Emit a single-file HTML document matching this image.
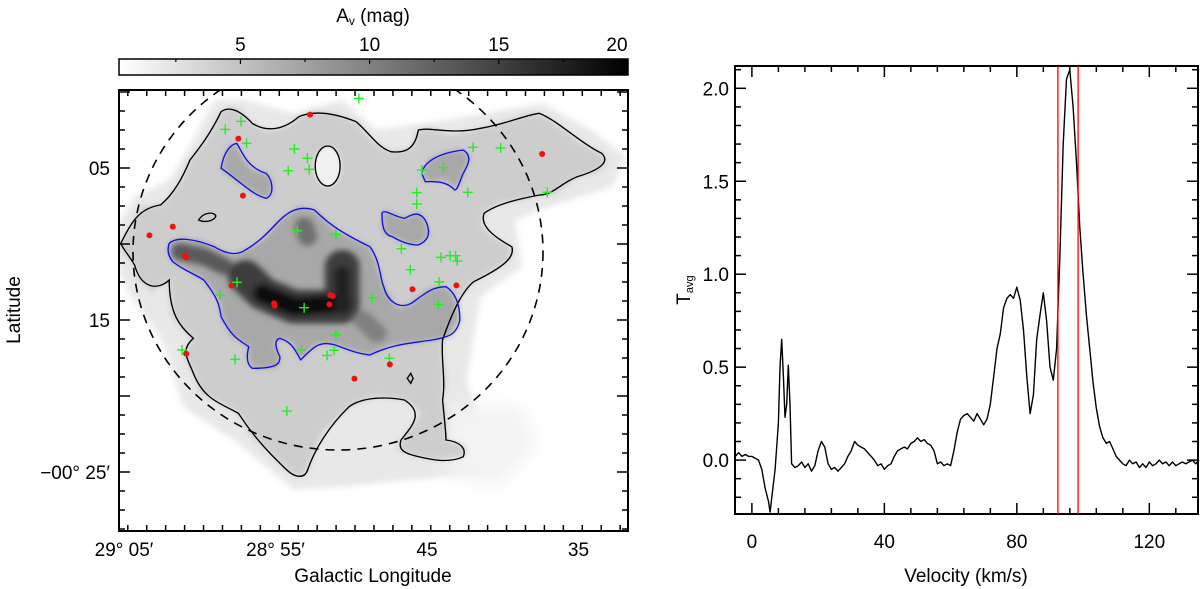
<!DOCTYPE html>
<html><head><meta charset="utf-8"><style>
html,body{margin:0;padding:0;background:#fff;}
svg{display:block;font-family:"Liberation Sans",sans-serif;}
</style></head><body>
<svg id="fig" width="1200" height="589" viewBox="0 0 1200 589" xmlns="http://www.w3.org/2000/svg">
<defs>
<linearGradient id="cbg" x1="0" x2="1" y1="0" y2="0"><stop offset="0" stop-color="#fff"/><stop offset="1" stop-color="#000"/></linearGradient>
<filter id="b1" x="-20%" y="-20%" width="140%" height="140%"><feGaussianBlur stdDeviation="9"/></filter>
<filter id="b3" x="-30%" y="-30%" width="160%" height="160%"><feGaussianBlur stdDeviation="25"/></filter>
<filter id="b2" x="-20%" y="-20%" width="140%" height="140%"><feGaussianBlur stdDeviation="5"/></filter>
<clipPath id="mapclip"><rect x="119" y="90" width="509" height="441"/></clipPath>
</defs>
<g>
<text x="373" y="22" font-size="19" text-anchor="middle">A<tspan font-size="12" dy="3">v</tspan><tspan dy="-3"> (mag)</tspan></text>
<rect x="119" y="59" width="509" height="16" fill="url(#cbg)" stroke="#000" stroke-width="1.5"/>
<g id="cbticks"></g>
</g>
<g clip-path="url(#mapclip)">
<g transform="translate(100,80) scale(0.346,0.33333)">
<path filter="url(#b1)" fill="#e8e8e8" d="M20,490 L100,350 L200,300 L260,200 L330,60 L420,60 L560,100 L700,60 L800,150 L1000,120 L1280,70 L1420,150 L1520,230 L1480,320 L1300,380 L1200,420 L1220,560 L1100,650 L1060,900 L1120,1120 L1100,1180 L900,1200 L700,1220 L560,1230 L400,1090 L240,980 L180,780 L90,650 Z"/>
<path filter="url(#b3)" fill="#f3f3f3" d="M1000,980 L1220,980 L1260,1100 L1150,1220 L1000,1180 Z"/>
<path filter="url(#b1)" fill="#cdcdcd" d="M60,490 L120,380 L175,375 L215,330 L240,290 L260,240 L300,190 L325,140 L350,95 L380,80 L410,95 L440,130 L490,155 L540,140 L575,110 L620,95 L680,100 L740,125 L790,185 L840,215 L900,205 L920,150 L960,145 L1010,165 L1100,145 L1230,105 L1270,100 L1330,140 L1390,190 L1450,220 L1465,250 L1440,275 L1380,290 L1310,345 L1270,345 L1220,360 L1150,370 L1110,400 L1105,440 L1140,470 L1190,500 L1185,540 L1140,570 L1080,605 L1040,650 L1010,720 L990,780 L990,840 L1000,900 L990,960 L1000,1010 L1000,1080 L1040,1090 L1060,1105 L1050,1130 L970,1140 L920,1130 L860,1110 L870,1080 L900,1040 L930,1000 L880,960 L800,950 L720,980 L650,1050 L620,1110 L600,1170 L580,1195 L540,1170 L500,1130 L430,1060 L400,1000 L350,970 L290,940 L270,880 L240,820 L270,775 L240,750 L210,710 L200,640 L200,600 L150,635 L110,600 L100,555 L60,510 Z"/>
<ellipse cx="658" cy="260" rx="40" ry="60" fill="#f0f0f0" filter="url(#b2)"/>
<g filter="url(#b1)" fill="#a8a8a8">
<path d="M350,265 L370,200 L395,190 L410,230 L440,270 L480,280 L500,300 L495,350 L470,355 L420,320 L375,290 Z"/>
<path d="M930,280 L950,240 L1000,215 L1050,210 L1070,235 L1050,280 L1030,330 L1000,300 L940,305 Z"/>
<path d="M815,400 L825,390 L880,415 L920,395 L940,420 L950,470 L920,495 L880,490 L845,470 L820,460 Z"/>
<path d="M200,490 L230,475 L290,480 L330,500 L380,525 L420,510 L470,480 L520,420 L575,380 L620,390 L680,450 L780,500 L800,550 L820,620 L860,685 L900,670 L950,625 L1000,620 L1030,660 L1040,720 L1010,770 L960,780 L900,790 L840,795 L780,825 L720,810 L680,795 L625,790 L580,840 L550,785 L520,775 L505,790 L520,830 L515,865 L440,865 L425,830 L430,800 L380,770 L350,710 L345,660 L300,600 L250,570 L210,545 Z"/>
</g>
<g filter="url(#b1)" fill="none" stroke-linecap="round" stroke-linejoin="round">
<path d="M230,515 L300,530 L360,560" stroke="#5a5a5a" stroke-width="50"/>
<path d="M590,440 L600,470" stroke="#707070" stroke-width="55"/>
<path d="M420,590 L470,640 L560,680 L700,680 L700,560" stroke="#3e3e3e" stroke-width="100"/>
<path d="M470,640 L560,680 L700,670" stroke="#0a0a0a" stroke-width="55"/>
<path d="M700,680 L700,580" stroke="#222" stroke-width="45"/>
<path d="M760,720 L800,760" stroke="#808080" stroke-width="55"/>
</g>
<g fill="none" stroke="#000" stroke-width="4">
<path d="M60,490 C90,430 110,385 175,375 C215,340 240,290 260,240 C290,200 320,160 350,95 C370,80 400,85 440,130 C470,150 520,160 575,110 C620,90 680,100 740,125 C780,160 800,200 840,215 C880,220 910,210 920,150 C960,140 1010,165 1100,145 C1180,130 1230,105 1270,100 C1320,120 1390,190 1450,220 C1470,240 1460,265 1380,290 C1330,310 1310,345 1270,345 C1220,355 1150,370 1110,400 C1100,430 1120,460 1190,500 C1200,530 1170,560 1080,605 C1040,640 1010,720 990,780 C985,840 1000,900 990,960 C995,1010 1000,1060 1000,1080 C1040,1085 1060,1105 1050,1130 C1010,1150 960,1140 920,1130 C880,1120 860,1110 870,1080 C900,1040 940,1000 880,960 C830,950 760,950 720,980 C660,1040 620,1110 600,1170 C590,1200 560,1190 540,1170 C500,1130 450,1080 400,1000 C350,970 300,960 270,880 C255,840 230,810 270,775 C230,740 200,700 200,600 C170,630 120,630 100,555 C80,520 65,505 60,490 Z"/>
<ellipse cx="658" cy="258" rx="36" ry="60"/>
<path d="M285,420 C300,395 330,395 335,408 C330,425 300,428 285,420 Z"/>
<path d="M898,880 L905,895 L898,910 L888,895 Z"/>
</g>
<g fill="none" stroke="#1010e8" stroke-width="4" stroke-linejoin="round">
<path d="M350,265 C355,230 370,195 395,190 C410,210 420,260 480,280 C500,300 505,345 480,355 C440,345 400,300 350,265 Z"/>
<path d="M930,280 C935,250 970,220 1050,210 C1080,230 1060,260 1050,280 C1040,300 1035,330 1025,330 C1000,300 960,305 940,305 Z"/>
<path d="M815,400 C820,385 850,410 880,415 C900,405 920,390 940,420 C955,450 955,480 920,495 C890,495 860,480 845,470 C820,465 815,440 815,400 Z"/>
<path d="M200,490 C220,470 270,475 330,500 C370,525 400,525 420,510 C470,480 500,440 520,420 C545,395 575,375 620,390 C650,420 680,450 780,500 C810,540 810,600 820,620 C830,660 860,690 900,670 C940,640 960,620 1000,620 C1030,640 1040,680 1040,720 C1030,765 1010,770 960,780 C900,790 850,790 780,825 C740,820 720,810 680,795 C640,785 625,790 580,840 C560,800 550,785 520,775 C500,780 510,810 520,830 C520,850 515,865 440,865 C420,850 425,820 430,800 C400,780 380,770 350,710 C345,680 345,660 300,600 C260,575 240,570 210,545 C195,525 195,505 200,490 Z"/>
</g>
</g>
<ellipse cx="338" cy="252" rx="205" ry="198" fill="none" stroke="#000" stroke-width="1.6" stroke-dasharray="9,7"/>
<g id="markers"></g>
</g>
<rect x="119" y="90" width="509" height="441" fill="none" stroke="#000" stroke-width="2"/>
<g id="mapaxes"></g>
<text x="373" y="582" font-size="19" text-anchor="middle">Galactic Longitude</text>
<text x="20" y="310" font-size="19" text-anchor="middle" transform="rotate(-90 20 310)">Latitude</text>
<rect x="735" y="66" width="463" height="448" fill="none" stroke="#000" stroke-width="2"/>
<g id="spec"></g>
<text x="966" y="582" font-size="19" text-anchor="middle">Velocity (km/s)</text>
<text x="690" y="290" font-size="19" text-anchor="middle" transform="rotate(-90 690 290)">T<tspan font-size="11" dy="3">avg</tspan></text>
</svg>
<script>
const velocity = [-5,-4,-3,-2,-1,0,1,2,3,4,5,5.5,6,7,8,8.5,9,9.5,10,10.5,11,11.5,12,13,14,15,16,17,18,19,20,21,22,23,24,25,26,27,28,29,30,31,32,33,34,35,36,37,38,39,40,41,42,43,44,45,46,47,48,49,50,51,52,53,54,55,56,57,58,59,60,61,62,63,64,65,66,67,68,69,70,71,72,73,74,75,76,77,78,79,80,81,82,83,84,85,86,87,88,89,90,91,92,93,94,95,96,97,98,99,100,101,102,103,104,105,106,107,108,109,110,111,112,113,114,115,116,117,118,119,120,121,122,123,124,125,126,127,128,129,130,131,132,133,134,135];
const tavg = [0.02,0.04,0.02,0.03,0.02,0.02,0.01,0.0,-0.05,-0.15,-0.22,-0.28,-0.2,-0.05,0.2,0.5,0.65,0.45,0.23,0.3,0.51,0.3,-0.02,-0.04,-0.03,-0.01,-0.04,-0.02,-0.06,-0.03,0.05,0.1,0.07,-0.02,-0.05,-0.04,-0.06,-0.04,-0.02,0.02,0.05,0.1,0.08,0.07,0.06,0.04,0.02,0.0,-0.03,-0.02,-0.05,-0.03,-0.02,0.02,0.05,0.06,0.07,0.06,0.09,0.1,0.12,0.1,0.11,0.09,0.08,0.05,-0.02,-0.01,-0.03,-0.02,-0.03,0.05,0.15,0.22,0.24,0.25,0.23,0.21,0.25,0.22,0.19,0.22,0.3,0.45,0.6,0.68,0.82,0.87,0.89,0.87,0.93,0.86,0.7,0.45,0.25,0.35,0.65,0.78,0.9,0.75,0.5,0.43,0.6,1.1,1.7,2.05,2.1,1.9,1.6,1.25,1.0,0.78,0.6,0.42,0.28,0.18,0.12,0.09,0.1,0.06,0.02,0.0,-0.02,-0.03,0.0,-0.02,-0.01,-0.04,-0.02,-0.04,-0.01,-0.03,-0.02,0.0,-0.02,-0.01,-0.03,-0.01,-0.03,-0.02,-0.01,-0.02,-0.01,0.0,-0.02,0.0];
const velTicks = [0,40,80,120];
const tTicks = ["0.0","0.5","1.0","1.5","2.0"];
const redLines = [92.4,98.5];
const ysoL = [52.72,57.45,57.15,37.40,61.78,63.32,60.98,60.90,57.90,55.10,55.05,51.39,51.22,51.44,45.96,43.06,60.90,49.79,47.45];
const ysoB = [-1.49,-3.07,-6.82,-4.08,-8.86,-9.43,-10.77,-10.88,-12.74,-13.90,-14.06,-13.36,-13.42,-13.97,-12.98,-12.72,-17.21,-18.86,-17.92];
const srcL = [49.50,58.32,57.27,56.91,53.75,52.89,54.16,52.78,41.96,40.14,45.34,43.91,45.68,45.68,42.31,37.06,53.56,51.01,46.69,44.08,43.47,43.11,43.00,46.10,44.20,57.54,58.68,53.11,48.61,44.25,51.01,53.29,51.14,51.60,47.49,57.67,61.17,54.25];
const srcB = [-0.42,-2.46,-1.93,-3.38,-3.75,-4.36,-5.18,-5.09,-3.64,-3.68,-5.13,-4.98,-6.62,-7.37,-6.60,-6.60,-9.12,-9.36,-10.31,-10.88,-10.77,-10.77,-11.12,-11.69,-12.50,-12.52,-13.36,-14.19,-13.53,-13.97,-15.97,-16.97,-16.99,-17.33,-17.52,-17.59,-16.97,-20.99];
const lonTicks = [65,55,45,35];
const lonLabels = ["29° 05′","28° 55′","45","35"];
const latTicks = [-5,-15,-25];
const latLabels = ["05","15","−00° 25′"];
const cbTicks = [5,10,15,20];

const NS="http://www.w3.org/2000/svg";
function mk(tag,attrs,parent){const e=document.createElementNS(NS,tag);for(const k in attrs)e.setAttribute(k,attrs[k]);parent.appendChild(e);return e;}

const X0=735,X1=1198,Y0=66,Y1=514,vmin=-5.1,vmax=134.7,tmin=-0.29,tmax=2.12;
const sx=v=>X0+(v-vmin)/(vmax-vmin)*(X1-X0);
const sy=t=>Y1-(t-tmin)/(tmax-tmin)*(Y1-Y0);
const spec=document.getElementById('spec');
for(let v=-8;v<=135;v+=8){const x=sx(v);if(x<X0+1||x>X1-1)continue;const maj=velTicks.includes(v);const L=maj?11:6;
 mk('line',{x1:x,x2:x,y1:Y1,y2:Y1-L,stroke:'#000','stroke-width':1.5},spec);mk('line',{x1:x,x2:x,y1:Y0,y2:Y0+L,stroke:'#000','stroke-width':1.5},spec);}
velTicks.forEach(v=>{const t=mk('text',{x:sx(v),y:548,'font-size':19,'text-anchor':'middle'},spec);t.textContent=v;

});
for(let k=-2;k<=21;k++){const tv=k/10;const y=sy(tv);if(y<Y0+1||y>Y1-1)continue;const maj=k%5===0;const L=maj?11:6;
 mk('line',{x1:X0,x2:X0+L,y1:y,y2:y,stroke:'#000','stroke-width':1.5},spec);mk('line',{x1:X1,x2:X1-L,y1:y,y2:y,stroke:'#000','stroke-width':1.5},spec);}
tTicks.forEach(s=>{const t=mk('text',{x:729,y:sy(parseFloat(s))+7,'font-size':19,'text-anchor':'end'},spec);t.textContent=s;

});
let d='';velocity.forEach((v,i)=>{d+=(i?'L':'M')+sx(v).toFixed(1)+','+Math.max(Y0,Math.min(Y1,sy(tavg[i]))).toFixed(1);});
const line=mk('path',{d:d,fill:'none',stroke:'#000','stroke-width':1.4,'stroke-linejoin':'round'},spec);


redLines.forEach(v=>{const l=mk('line',{x1:sx(v),x2:sx(v),y1:Y0,y2:Y1,stroke:'#f00','stroke-width':1.3},spec);

});

const MX0=119,MX1=628,MY0=90,MY1=531;
const mx=l=>124+(65-l)*15.15;
const my=b=>168+(-5-b)*15.2;
const ma=document.getElementById('mapaxes');
for(let l=66;l>=31;l-=1.25){const x=mx(l);if(x<MX0+1||x>MX1-1)continue;const maj=Math.abs(l%5)<0.01;const L=maj?11:6;
 mk('line',{x1:x,x2:x,y1:MY1,y2:MY1-L,stroke:'#000','stroke-width':1.5},ma);mk('line',{x1:x,x2:x,y1:MY0,y2:MY0+L,stroke:'#000','stroke-width':1.5},ma);}
lonTicks.forEach((l,i)=>{const t=mk('text',{x:mx(l),y:556,'font-size':19,'text-anchor':'middle'},ma);t.textContent=lonLabels[i];

});
for(let b=0;b>=-30;b-=1.25){const y=my(b);if(y<MY0+1||y>MY1-1)continue;const maj=Math.abs(b%5)<0.01;const L=maj?11:6;
 mk('line',{x1:MX0,x2:MX0+L,y1:y,y2:y,stroke:'#000','stroke-width':1.5},ma);mk('line',{x1:MX1,x2:MX1-L,y1:y,y2:y,stroke:'#000','stroke-width':1.5},ma);}
latTicks.forEach((b,i)=>{const t=mk('text',{x:110,y:my(b)+7,'font-size':19,'text-anchor':'end'},ma);t.textContent=latLabels[i];

});
const cx=v=>119+(v-0.3)/(20-0.3)*509;
const cb=document.getElementById('cbticks');
for(let v=2.5;v<20;v+=2.5){const x=cx(v);const L=(v%5===0)?5:3;mk('line',{x1:x,x2:x,y1:59,y2:59+L,stroke:'#000','stroke-width':1.2},cb);}
cbTicks.forEach(v=>{const t=mk('text',{x:cx(v)-(v===20?11:0),y:51,'font-size':19,'text-anchor':'middle'},cb);t.textContent=v;

});
const mg=document.getElementById('markers');
srcL.forEach((l,i)=>{const x=mx(l),y=my(srcB[i]);const p=mk('path',{d:`M${x-5},${y}H${x+5}M${x},${y-5}V${y+5}`,stroke:'#22ee22','stroke-width':1.4},mg);

});
ysoL.forEach((l,i)=>{const c=mk('circle',{cx:mx(l),cy:my(ysoB[i]),r:3,fill:'#f01010'},mg);

});
</script>
</body></html>
